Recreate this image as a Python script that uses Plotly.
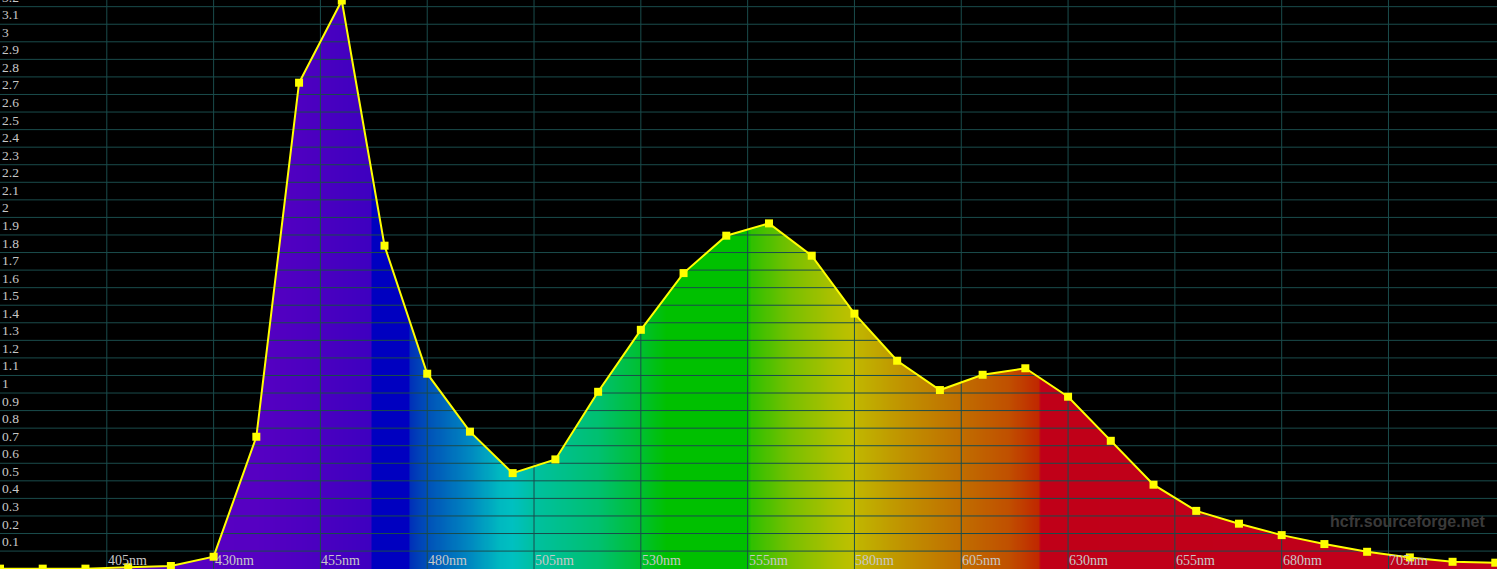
import numpy as np
import plotly.graph_objects as go

# spectral power distribution, sampled every 10 nm
wavelengths = [380, 390, 400, 410, 420, 430, 440, 450, 460, 470, 480, 490,
               500, 510, 520, 530, 540, 550, 560, 570, 580, 590, 600, 610,
               620, 630, 640, 650, 660, 670, 680, 690, 700, 710, 720, 730]
power = [0.0, 0.0, 0.0, 0.008, 0.015, 0.068, 0.751, 2.767, 3.235, 1.839, 1.110, 0.780,
         0.544, 0.622, 1.007, 1.360, 1.683, 1.896, 1.966, 1.782, 1.452, 1.184, 1.017, 1.104,
         1.141, 0.979, 0.728, 0.478, 0.329, 0.256, 0.191, 0.140, 0.096, 0.064, 0.039, 0.034]

x_ticks = [405, 430, 455, 480, 505, 530, 555, 580, 605, 630, 655, 680, 705]
y_ticks = [round(0.1 * i, 1) for i in range(1, 33)]

X_RANGE = [380, 730.4]
Y_RANGE = [-0.002, 3.238]

# colour ramp for the spectrum fill (nm -> colour)
spectrum_stops = [
    (379, '#5c00c4'), (440, '#5600c2'), (455, '#4a00c0'), (466.8, '#3e00c0'),
    (467.2, '#0000c0'), (475.5, '#0000c0'), (476, '#0030b8'), (480, '#0050b8'),
    (490, '#0088c0'), (497, '#00b8c0'), (500, '#00c0c0'), (505, '#00c0a0'),
    (520, '#00c070'), (530, '#00c030'), (536, '#00c000'), (555, '#00c000'),
    (556, '#30c000'), (565, '#78c000'), (575, '#acc000'), (580, '#c0c000'),
    (581, '#c0b400'), (592, '#c09000'), (604, '#c07000'), (616, '#c05000'),
    (623, '#c02800'), (623.6, '#c00018'), (731, '#c0001c'),
]
lo, hi = spectrum_stops[0][0], spectrum_stops[-1][0]
colorscale = [[(nm - lo) / (hi - lo), c] for nm, c in spectrum_stops]

ramp_x = np.arange(lo, hi + 0.25, 0.25)

fig = go.Figure()

fig.add_trace(go.Heatmap(
    x=ramp_x, y=[0, 3.4], z=[ramp_x, ramp_x],
    zmin=lo, zmax=hi, colorscale=colorscale, zsmooth=False,
    showscale=False, hoverinfo='skip'
))

# black out everything above the curve
mask_x = [wavelengths[0] - 3] + wavelengths + [wavelengths[-1] + 3, wavelengths[-1] + 3, wavelengths[0] - 3]
mask_y = [power[0]] + power + [power[-1], 5, 5]
fig.add_trace(go.Scatter(
    x=mask_x, y=mask_y, fill='toself', fillcolor='black',
    mode='lines', line=dict(width=0), hoverinfo='skip', showlegend=False
))

# grid drawn over the fill
gx, gy = [], []
for t in x_ticks:
    gx += [t, t, None]
    gy += [-1, 5, None]
for t in y_ticks:
    gx += [370, 740, None]
    gy += [t, t, None]
fig.add_trace(go.Scatter(
    x=gx, y=gy, mode='lines', line=dict(color='#1a4c4c', width=1),
    hoverinfo='skip', showlegend=False
))

fig.add_trace(go.Scatter(
    x=wavelengths, y=power, mode='lines+markers',
    line=dict(color='#ffff00', width=2),
    marker=dict(symbol='square', size=8, color='#ffff00'),
    showlegend=False
))

label_font = dict(family='Liberation Serif', size=13.5, color='#c8c8c8')
annotations = []
for t in y_ticks:
    annotations.append(dict(
        x=0, xref='paper', y=t, yref='y', text=f'{t:g}', showarrow=False,
        xanchor='left', yanchor='bottom', xshift=1, yshift=1, borderpad=0, font=label_font
    ))
for t in x_ticks:
    annotations.append(dict(
        x=t, xref='x', y=0, yref='paper', text=f'{t}nm', showarrow=False,
        xanchor='left', yanchor='bottom', xshift=0, borderpad=0,
        font=dict(family='Liberation Serif', size=14, color='#c8c8c8')
    ))
annotations.append(dict(
    x=0.993, xref='paper', y=(569 - 521) / 569, yref='paper', yanchor='middle',
    text='<b>hcfr.sourceforge.net</b>', showarrow=False, xanchor='right',
    font=dict(family='Liberation Sans', size=16, color='#3a3a3a')
))

fig.update_layout(
    width=1497, height=569,
    margin=dict(l=0, r=0, t=0, b=0),
    paper_bgcolor='black', plot_bgcolor='black',
    xaxis=dict(range=X_RANGE, showgrid=False, zeroline=False, showticklabels=False, fixedrange=True),
    yaxis=dict(range=Y_RANGE, showgrid=False, zeroline=False, showticklabels=False, fixedrange=True),
    annotations=annotations,
    showlegend=False,
)

fig.write_html('out.html', config={'displayModeBar': False},
               post_script="document.body.style.margin='0';document.body.style.overflow='hidden';")
